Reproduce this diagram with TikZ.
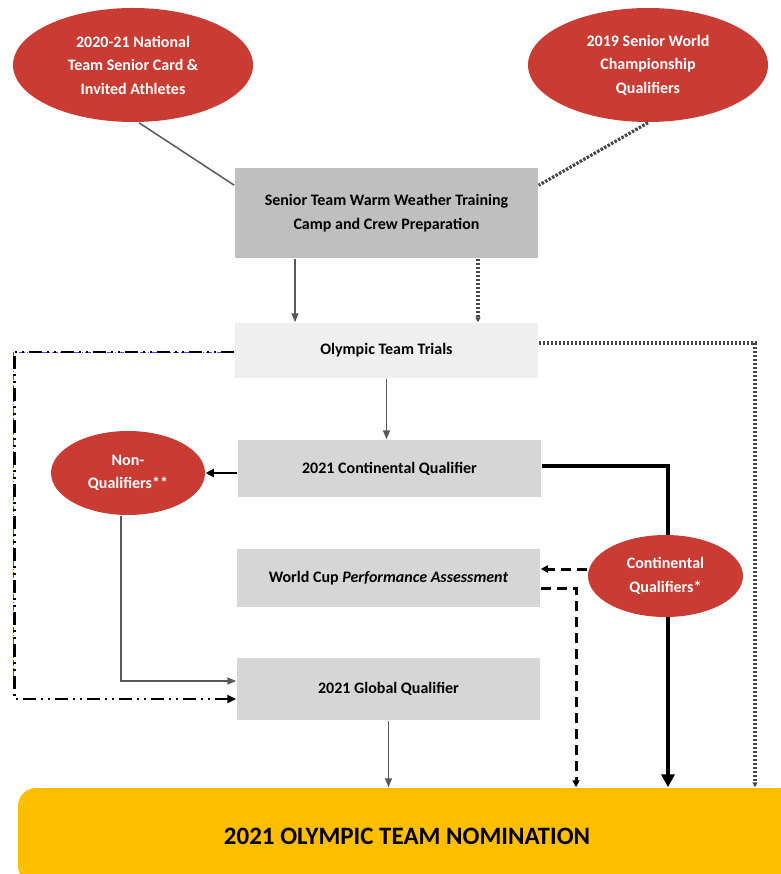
\documentclass[tikz,border=0pt]{standalone}
\usepackage{fontspec}
\setmainfont{Carlito}
\usetikzlibrary{shapes.geometric,arrows.meta}
\definecolor{ovalred}{HTML}{C83C33}
\definecolor{campgray}{HTML}{BFBFBF}
\definecolor{trialgray}{HTML}{EFEFEF}
\definecolor{stagegray}{HTML}{D6D6D6}
\definecolor{nomyellow}{HTML}{FFBE00}
\definecolor{linegray}{HTML}{595959}

\begin{document}
\begin{tikzpicture}[x=1pt, y=-1pt, line width=1.5pt,
    font=\bfseries\fontsize{16}{23.5}\selectfont,
    oval/.style={ellipse, fill=ovalred, text=white, align=center, inner sep=0pt},
    stage/.style={rectangle, minimum width=303pt, align=center, inner sep=0pt},
    grayarrow/.style={color=linegray, -{Triangle[length=9pt,width=7pt]}},
    dotline/.style={color=linegray!80!black, line width=3.2pt, dash pattern=on 2.5pt off 1.5pt},
    dashline/.style={color=black, line width=3pt, dash pattern=on 10pt off 6pt}]
    \useasboundingbox (0,0) rectangle (780,874);

    % Knoten.
    \node[oval, minimum width=240pt, minimum height=114pt] (natl) at (133,65)
        {2020-21 National\\Team Senior Card \&\\Invited Athletes};
    \node[oval, minimum width=240pt, minimum height=114pt] (worlds) at (648,65)
        {2019 Senior World\\Championship\\Qualifiers};
    \node[stage, fill=campgray, minimum height=90pt] (camp) at (386.5,213)
        {Senior Team Warm Weather Training\\Camp and Crew Preparation};
    \node[stage, fill=trialgray, minimum height=55pt] (trials) at (386.5,350.5)
        {Olympic Team Trials};
    \node[stage, fill=stagegray, minimum height=57pt] (contq) at (389.5,468.5)
        {2021 Continental Qualifier};
    \node[stage, fill=stagegray, minimum height=58pt] (wcup) at (388.5,578)
        {World Cup \textit{Performance Assessment}};
    \node[stage, fill=stagegray, minimum height=62pt] (globq) at (388.5,689)
        {2021 Global Qualifier};
    \node[oval, minimum width=154pt, minimum height=84pt] (nonq) at (128,473)
        {Non-\\Qualifiers**};
    \node[rectangle, rounded corners=18pt, fill=nomyellow, minimum width=778pt,
        minimum height=96pt, font=\bfseries\fontsize{25}{28}\selectfont] (nomin) at (407,836)
        {2021 OLYMPIC TEAM NOMINATION};

    % Linien.
    \draw[color=linegray] ([xshift=6pt]natl.south) -- ([yshift=-18pt]camp.north west);
    \draw[dotline] (worlds.south) -- ([yshift=-18pt]camp.north east);
    \draw[grayarrow] ([xshift=-91.5pt]camp.south) -- ([xshift=-91.5pt]trials.north);
    \draw[dotline, -{Triangle[length=5pt,width=5pt]}]
        ([xshift=91.5pt]camp.south) -- ([xshift=91.5pt]trials.north);
    \draw[grayarrow] (trials.south) -- (trials.south |- contq.north);
    \draw[color=black, line width=2pt, -{Triangle[length=8pt,width=8pt]}] (contq.west |- nonq) -- (nonq.east);
    \draw[grayarrow] ([xshift=-7pt]nonq.south) |- ([yshift=8pt]globq.west);

    % Strich-Punkt-Punkt.
    \draw[color=blue!70, line width=.5pt, dash pattern=on 6pt off 2pt on 1pt off 2pt]
        ([yshift=-2pt]trials.west) -- ++(-221,0) -- ++(0,330);
    \draw[color=black, line width=2.6pt, dash pattern=on 13pt off 5pt on 2pt off 5pt on 2pt off 5pt,
        -{Triangle[length=9pt,width=8pt]}]
        ([yshift=-1.5pt]trials.west) -- ++(-220,0) |- ([yshift=-10pt]globq.west);

    \draw[dotline, -{Triangle[length=5pt,width=5pt]}]
        ([yshift=7.5pt]trials.east) -| ([xshift=348pt]nomin.north);
    \draw[color=black, line width=3.8pt, -{Triangle[length=13pt,width=13pt]}]
        ([yshift=2.5pt]contq.east) -| ([xshift=261pt]nomin.north);
    \node[oval, minimum width=155pt, minimum height=82pt] (contqual) at (665.5,576)
        {Continental\\Qualifiers*};
    \draw[dashline, -{Triangle[length=7pt,width=7pt]}]
        ([yshift=7pt]contqual.west) -- ([yshift=7pt]contqual.west -| wcup.east);
    \draw[dashline, -{Triangle[length=7pt,width=7pt]}]
        ([yshift=-10pt]wcup.east) -| ([xshift=169pt]nomin.north);
    \draw[grayarrow] (globq.south) -- (globq.south |- nomin.north);
\end{tikzpicture}
\end{document}
